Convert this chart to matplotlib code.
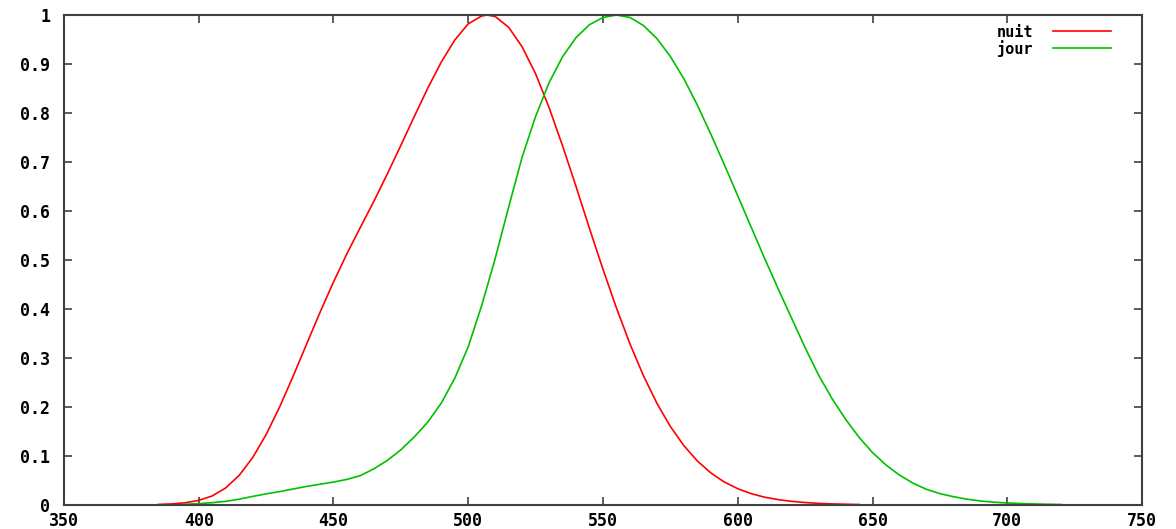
import matplotlib
matplotlib.use('Agg')
import matplotlib.pyplot as plt
from matplotlib.ticker import FuncFormatter


# nuit : sensibilite scotopique
nuit_x = [385, 390, 395, 400, 405, 410, 415, 420, 425, 430, 435, 440, 445,
          450, 455, 460, 465, 470, 475, 480, 485, 490, 495, 500, 505, 507,
          510, 515, 520, 525, 530, 535, 540, 545, 550, 555, 560, 565, 570,
          575, 580, 585, 590, 595, 600, 605, 610, 615, 620, 625, 630, 635,
          640, 645]
nuit_y = [0.0011, 0.0022, 0.0045, 0.0093, 0.0185, 0.0348, 0.0604, 0.0966,
          0.1436, 0.1998, 0.2625, 0.3281, 0.3931, 0.455, 0.513, 0.567, 0.620,
          0.676, 0.734, 0.793, 0.851, 0.904, 0.949, 0.982, 0.998, 1.0, 0.997,
          0.975, 0.935, 0.880, 0.811, 0.733, 0.650, 0.564, 0.481, 0.402,
          0.3288, 0.2639, 0.2076, 0.1602, 0.1212, 0.0899, 0.0655, 0.0469,
          0.0332, 0.0231, 0.0159, 0.0109, 0.0074, 0.0050, 0.0033, 0.0022,
          0.0015, 0.0010]

# jour : sensibilite photopique
jour_x = [395, 400, 405, 410, 415, 420, 425, 430, 435, 440, 445, 450, 455,
          460, 465, 470, 475, 480, 485, 490, 495, 500, 505, 510, 515, 520,
          525, 530, 535, 540, 545, 550, 555, 560, 565, 570, 575, 580, 585,
          590, 595, 600, 605, 610, 615, 620, 625, 630, 635, 640, 645, 650,
          655, 660, 665, 670, 675, 680, 685, 690, 695, 700, 705, 710, 715,
          720]
jour_y = [0.0015, 0.0028, 0.0047, 0.0074, 0.0118, 0.0175, 0.0227, 0.0273,
          0.0326, 0.0379, 0.0424, 0.0468, 0.0522, 0.060, 0.0739, 0.091,
          0.1126, 0.139, 0.1693, 0.208, 0.2586, 0.323, 0.4073, 0.503, 0.6082,
          0.710, 0.7932, 0.862, 0.9149, 0.954, 0.9803, 0.995, 1.0, 0.995,
          0.9786, 0.952, 0.9154, 0.870, 0.8163, 0.757, 0.6949, 0.631, 0.5668,
          0.503, 0.4412, 0.381, 0.321, 0.265, 0.217, 0.175, 0.1382, 0.107,
          0.0816, 0.061, 0.0446, 0.032, 0.0232, 0.017, 0.0119, 0.0082,
          0.0057, 0.0041, 0.0029, 0.0021, 0.0015, 0.0010]

xticks = [350, 400, 450, 500, 550, 600, 650, 700, 750]
yticks = [0, 0.1, 0.2, 0.3, 0.4, 0.5, 0.6, 0.7, 0.8, 0.9, 1]

plt.rcParams['font.family'] = ['DejaVu Sans Mono']
plt.rcParams['font.weight'] = 'bold'
plt.rcParams['font.size'] = 12

fig = plt.figure(figsize=(11.76, 5.29), dpi=100)
ax = fig.add_axes([0.0544, 0.0454, 0.9167, 0.9262])

ax.plot(nuit_x, nuit_y, color='#ff0000', lw=1.2, label='nuit')
ax.plot(jour_x, jour_y, color='#00c000', lw=1.2, label='jour')

ax.set_xlim(350, 750)
ax.set_ylim(0, 1)
ax.set_xticks(xticks)
ax.set_yticks(yticks)
ax.yaxis.set_major_formatter(FuncFormatter(lambda v, p: '%g' % v))

for s in ax.spines.values():
    s.set_color('#404040')
    s.set_linewidth(1.5)
ax.tick_params(direction='in', length=6, width=1.2, color='#404040',
               top=True, right=True, labelsize=12)
ax.tick_params(axis='y', pad=10)
ax.tick_params(axis='x', pad=5)
for lab in ax.get_xticklabels() + ax.get_yticklabels():
    lab.set_fontweight('bold')

# legende : texte a gauche, trait a droite
leg = ax.legend(loc='upper right', bbox_to_anchor=(1122 / 1176, 1 - 14 / 529),
                bbox_transform=fig.transFigure, frameon=False,
                markerfirst=False, handlelength=3.8, handletextpad=1.3,
                labelspacing=0.0, borderpad=0.2, fontsize=11)
for t in leg.get_texts():
    t.set_fontweight('bold')

fig.savefig('out.png', dpi=100)
